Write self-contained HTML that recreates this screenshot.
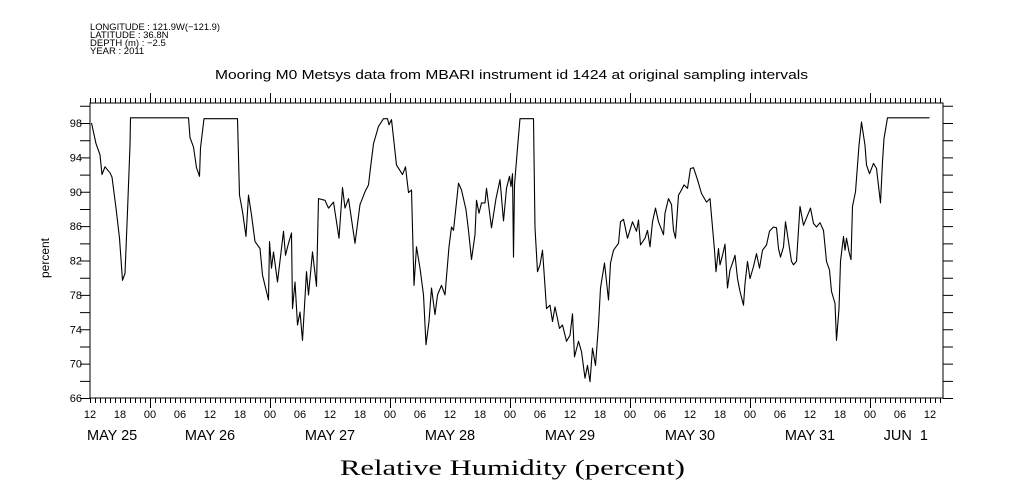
<!DOCTYPE html>
<html><head><meta charset="utf-8"><style>
html,body{margin:0;padding:0;background:#fff;}
svg{display:block;font-family:"Liberation Sans",sans-serif;}
</style></head><body>
<svg id="chart" width="1009" height="504" viewBox="0 0 1009 504" xmlns="http://www.w3.org/2000/svg">
<g font-size="9.5" fill="#000">
<text x="90" y="30" textLength="130" lengthAdjust="spacingAndGlyphs">LONGITUDE : 121.9W(−121.9)</text>
<text x="90" y="38">LATITUDE : 36.8N</text>
<text x="90" y="46">DEPTH (m) : −2.5</text>
<text x="90" y="54">YEAR : 2011</text>
</g>
<text x="215" y="79" font-size="13" textLength="593" lengthAdjust="spacingAndGlyphs">Mooring M0 Metsys data from MBARI instrument id 1424 at original sampling intervals</text>
<text transform="translate(49,258) rotate(-90)" font-size="12" text-anchor="middle">percent</text>
<text x="340" y="475" font-size="22" font-family="Liberation Serif, serif" textLength="345" lengthAdjust="spacingAndGlyphs">Relative Humidity (percent)</text>
<g id="axes"></g>
<g id="series"></g>
</svg>
<script>
const hours=[0.3,1.2,2,2.4,3,4,4.4,5.2,5.9,6.5,7,7.5,8,8.1,19.7,20,20.7,21.3,21.9,22.1,22.8,29.5,29.9,30.5,31.2,31.7,32.3,33,34,34.5,35.7,35.9,36.3,36.7,37.5,38.7,39.1,39.7,40.3,40.5,41,41.5,42,42.5,42.8,43.3,43.7,44.5,45.3,45.7,47,47.7,48.7,49.8,50.5,51,51.7,53,54,55,55.7,56,56.7,57.7,58.7,59.5,59.8,60.3,61.3,62.5,63.1,63.7,64.3,64.8,65.3,66,66.7,67.2,67.8,68.3,69,69.5,70.3,71,71.8,72.3,72.7,73.7,74.3,75.2,75.7,76.3,77,77.3,77.8,78.3,79,79.3,80.3,81.2,82,82.7,83.3,83.9,84.2,84.5,84.7,84.9,85.5,86,88.7,89,89.5,90,90.5,90.8,91.3,92,92.5,93,93.9,94.5,95.3,96,96.5,96.9,97.7,98.3,99,99.5,100,100.5,101.1,101.7,102.1,102.9,103.7,104.1,104.7,105.7,106.1,106.7,107.5,108.5,109.3,109.7,110.1,111,111.5,112,112.5,113.1,113.7,114.7,115,115.7,116.3,116.7,117.1,117.7,118.3,118.8,119.5,120.1,120.7,121.5,122.3,123.3,124,124.9,125.2,125.7,126,126.5,127,127.5,128,128.5,129,129.5,130,130.7,131,131.5,132,132.7,133.3,133.9,134.5,135.3,135.9,136.7,137.3,137.7,138.1,138.7,139.1,139.7,140.3,140.7,141.3,142,142.7,144.1,144.7,145.3,146,146.7,147.3,147.9,148.3,149,149.3,149.8,150.1,150.7,151,151.3,151.8,152.2,152.5,153.1,153.8,154.3,155,155.3,155.9,156.7,157.3,158.1,158.5,158.8,159.5,167.9];
const humidity=[98.0,95.6,94.3,92.0,92.9,92.2,91.7,88.1,84.6,79.7,80.5,87.7,95.4,98.6,98.6,96.3,95.2,92.8,91.8,95.1,98.5,98.5,89.6,87.7,84.8,89.6,87.3,84.2,83.4,80.3,77.4,84.2,81.1,83.0,79.5,85.4,82.6,84.0,85.2,76.4,79.5,74.5,76.0,72.7,75.7,80.7,78.0,83.0,79.0,89.2,89.0,88.1,88.8,84.6,90.5,88.1,89.2,84.0,88.5,90.0,90.8,92.3,95.6,97.6,98.5,98.5,97.8,98.4,93.1,92.0,92.9,89.9,90.2,79.1,83.6,81.1,78.0,72.2,74.9,78.8,75.7,78.0,79.1,78.0,83.6,85.9,85.5,91.0,90.2,87.9,85.5,82.1,85.0,89.0,87.5,88.7,88.7,90.4,85.8,89.2,91.4,86.6,90.4,91.8,90.6,92.1,82.4,90.8,95.1,98.5,98.5,85.8,80.7,81.5,83.2,80.7,76.4,76.8,74.9,76.6,74.1,74.5,72.6,73.3,75.8,70.8,72.6,71.4,68.3,69.8,67.9,71.8,69.8,74.5,78.8,81.7,77.4,81.7,83.2,84.0,86.5,86.8,84.6,86.5,85.4,86.7,83.8,84.6,85.5,83.6,86.5,88.1,86.5,85.0,87.5,89.2,88.5,85.5,84.6,89.6,90.2,90.8,90.4,92.7,92.8,91.4,89.8,88.8,89.2,83.2,80.7,83.4,81.5,82.6,83.9,78.8,80.9,81.7,82.6,79.9,78.4,76.8,79.3,81.9,79.9,81.3,82.8,81.1,83.2,83.8,85.4,85.9,85.8,83.4,82.4,83.6,86.5,84.2,81.9,81.5,81.9,88.3,86.1,88.1,86.3,85.9,86.4,85.5,81.9,80.9,78.4,77.0,72.7,76.4,81.9,84.8,83.2,84.6,83.0,82.1,88.3,90.0,95.4,98.1,95.4,93.1,92.1,93.3,92.7,88.7,93.5,96.2,98.6,98.6];
const yTicks=[98,94,90,86,82,78,74,70,66];
const hourLabels=["12","18","00","06"];
const dayLabels=["MAY 25","MAY 26","MAY 27","MAY 28","MAY 29","MAY 30","MAY 31","JUN  1"];

const NS="http://www.w3.org/2000/svg";
const L=90,R=943,T=103,B=398;
const xs=h=>L+h*5.0;
const ys=v=>123+(98-v)*8.594;
const axes=document.getElementById('axes'),series=document.getElementById('series');
function mk(tag,at,parent){const e=document.createElementNS(NS,tag);for(const k in at)e.setAttribute(k,at[k]);parent.appendChild(e);return e;}

const frame=mk('rect',{x:L,y:T,width:R-L,height:B-T,fill:'none',stroke:'#000','stroke-width':1},axes);



let tp='';
for(let h=0;h<=170;h++){
  const x=xs(h)+0.5;const major=((h+12)%24===0);const len=major?10:5;
  tp+=`M${x},${T}V${T-len}M${x},${B}V${B+len}`;
}
for(let v=66;v<=100;v+=2){const y=ys(v)+0.5;tp+=`M${L},${y}H${L-10}M${R},${y}H${R+10}`;}
const ticks=mk('path',{d:tp,stroke:'#000','stroke-width':1,fill:'none'},axes);



yTicks.forEach(v=>{
  const t=mk('text',{x:L-8,y:ys(v)+4,'font-size':11,'text-anchor':'end'},axes);
  t.textContent=v;
  
  
});
for(let h=0,i=0;h<=168;h+=6,i++){
  const t=mk('text',{x:xs(h),y:418,'font-size':11,'text-anchor':'middle'},axes);
  t.textContent=hourLabels[i%4];
  
  
}
dayLabels.forEach((d,i)=>{
  let x=xs(i*24),anchor='middle';
  if(i===0){x=L-3;anchor='start';}
  if(i===dayLabels.length-1){x=xs(168)-2;anchor='end';}
  const t=mk('text',{x:x,y:440,'font-size':14.5,'text-anchor':anchor},axes);
  t.style.whiteSpace='pre';
  t.textContent=d;
  
  
});

const pts=hours.map((h,i)=>xs(h).toFixed(1)+','+ys(humidity[i]).toFixed(1)).join(' ');
const line=mk('polyline',{points:pts,fill:'none',stroke:'#000','stroke-width':1.1,'stroke-linejoin':'round'},series);


</script>
</body></html>
